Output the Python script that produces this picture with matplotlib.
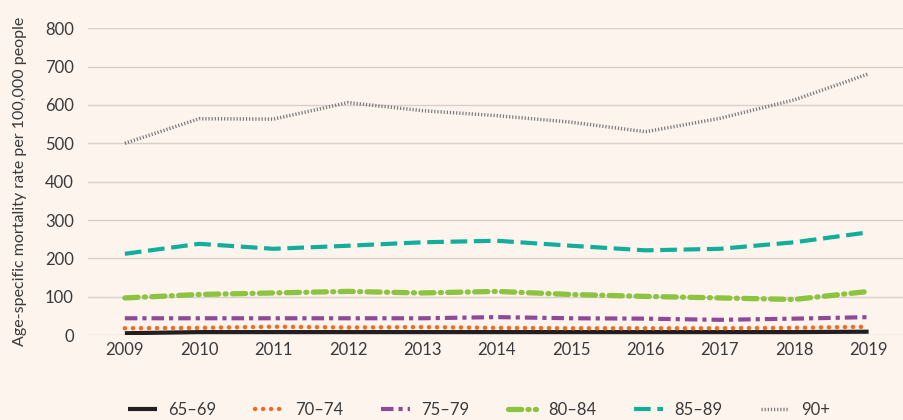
import matplotlib.pyplot as plt

plt.rcParams['font.family'] = ['Lato', 'DejaVu Sans']

years = [2009, 2010, 2011, 2012, 2013, 2014, 2015, 2016, 2017, 2018, 2019]
age_groups = ['65–69', '70–74', '75–79', '80–84', '85–89', '90+']

rate_65_69 = [5, 8, 8, 8, 8, 8, 8, 8, 8, 8, 9]
rate_70_74 = [18, 19, 22, 20, 21, 19, 18, 18, 18, 19, 22]
rate_75_79 = [44, 44, 44, 44, 44, 47, 44, 43, 40, 43, 47]
rate_80_84 = [97, 106, 110, 114, 110, 114, 106, 101, 97, 93, 114]
rate_85_89 = [212, 238, 225, 233, 242, 246, 233, 221, 225, 242, 268]
rate_90_plus = [500, 564, 563, 606, 585, 572, 555, 530, 565, 613, 681]

bg = '#fdf4ee'
fig = plt.figure(figsize=(9.04, 4.2), dpi=100, facecolor=bg)
ax = fig.add_axes([0.097, 0.202, 0.905, 0.731], facecolor=bg)

ax.plot(years, rate_65_69, color='#231f20', lw=3, solid_capstyle='butt', label=age_groups[0])
ax.plot(years, rate_70_74, color='#f26b21', lw=3.2, linestyle=(0, (0.05, 1.75)),
        dash_capstyle='round', label=age_groups[1])
ax.plot(years, rate_75_79, color='#8e4a96', lw=3, linestyle=(0, (3, 1.2, 1, 1.2)),
        dash_capstyle='butt', label=age_groups[2])
ax.plot(years, rate_80_84, color='#8cc43f', lw=3.8, linestyle=(0, (2.5, 1.2, 0.2, 1.2)),
        dash_capstyle='round', label=age_groups[3])
ax.plot(years, rate_85_89, color='#11ae9b', lw=3, linestyle=(0, (4, 1.6)),
        dash_capstyle='butt', label=age_groups[4])
ax.plot(years, rate_90_plus, color='#7a7a7a', lw=2.5, linestyle=(0, (0.35, 0.55)),
        dash_capstyle='butt', label=age_groups[5])

ax.set_xlim(2008.5, 2019.5)
ax.set_ylim(0, 800)
ax.set_xticks(years)
ax.set_yticks(range(0, 801, 100))
ax.grid(axis='y', color='#d9d0cb', lw=1)
ax.set_axisbelow(True)
for s in ax.spines.values():
    s.set_visible(False)
ax.tick_params(length=0, labelsize=12, colors='#3a3a3a', pad=5)
ax.tick_params(axis='y', pad=10)
ax.set_ylabel('Age-specific mortality rate per 100,000 people', fontsize=11.5,
              color='#3a3a3a', labelpad=13)

fig.legend(loc='lower center', bbox_to_anchor=(0.53, -0.03), ncol=6, frameon=False,
           fontsize=12, handlelength=1.7, handletextpad=0.7, columnspacing=2.3,
           labelcolor='#3a3a3a')

fig.savefig('out.png', dpi=100, facecolor=bg)
